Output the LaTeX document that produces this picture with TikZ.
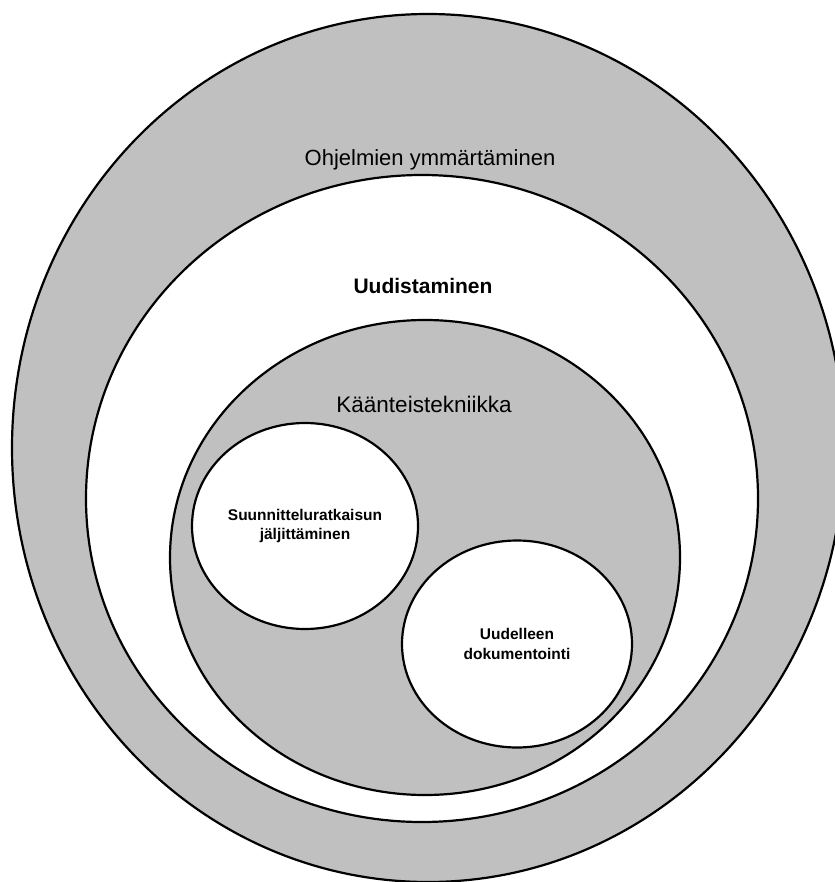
\documentclass[tikz,border=0pt]{standalone}
\usepackage{fontspec}
\setmainfont{Liberation Sans}
\usetikzlibrary{shapes.geometric}

\definecolor{ringgray}{HTML}{C0C0C0}

\tikzset{
  area/.style={ellipse, draw=black, line width=2.2pt, inner sep=0pt, outer sep=0pt},
  grayarea/.style={area, fill=ringgray},
  whitearea/.style={area, fill=white},
  biglabel/.style={anchor=base, inner sep=0pt, font=\fontsize{22}{26}\selectfont},
  smalltext/.style={align=center, font=\bfseries\fontsize{15.5}{19.5}\selectfont}
}

\begin{document}
\begin{tikzpicture}[x=1pt, y=-1pt]
  \useasboundingbox (0,0) rectangle (834,882);

  % nested areas, outermost first
  \node[grayarea,  minimum width=832pt, minimum height=868pt] (ohjelmat) at (428,448) {};
  \node[whitearea, minimum width=672pt, minimum height=647pt] (uudistus) at (422,498.5) {};
  \node[grayarea,  minimum width=510pt, minimum height=475pt] (kaanteis) at (425,557.5) {};
  \node[whitearea, minimum width=226pt, minimum height=206pt, smalltext] (jaljitys) at (305,526)
    {Suunnitteluratkaisun\\jäljittäminen};
  \node[whitearea, minimum width=230pt, minimum height=207pt, smalltext] (dokument) at (517,644)
    {Uudelleen\\dokumentointi};

  % area titles
  \node[biglabel] (t1) at (430,166) {Ohjelmien ymmärtäminen};
  \node[biglabel, font=\bfseries\fontsize{21}{25}\selectfont] (t2) at (423,293) {Uudistaminen};
  \node[biglabel, font=\fontsize{22.5}{27}\selectfont] (t3) at (424,412) {Käänteistekniikka};
\end{tikzpicture}
\end{document}
